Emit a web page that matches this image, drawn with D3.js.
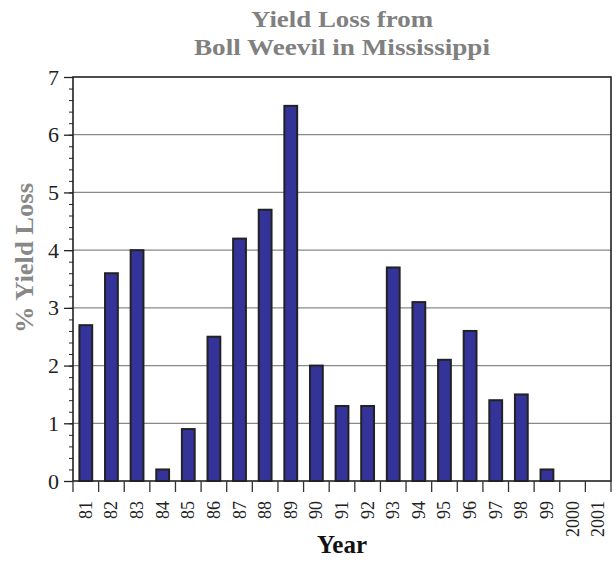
<!DOCTYPE html>
<html>
<head>
<meta charset="utf-8">
<script src="https://cdn.jsdelivr.net/npm/d3@7"></script>
<style>
  body { margin: 0; background: #fff; }
  svg text { font-family: "Liberation Serif", "Times New Roman", serif; }
</style>
</head>
<body>
<div id="chart"></div>
<script>
// data
const years = ["81", "82", "83", "84", "85", "86", "87", "88", "89", "90", "91",
  "92", "93", "94", "95", "96", "97", "98", "99", "2000", "2001"];
const yieldLoss = [2.7, 3.6, 4.0, 0.2, 0.9, 2.5, 4.2, 4.7, 6.5, 2.0, 1.3,
  1.3, 3.7, 3.1, 2.1, 2.6, 1.4, 1.5, 0.2, 0, 0];
const yTicks = [0, 1, 2, 3, 4, 5, 6, 7];

const width = 616, height = 565;
const margin = {top: 77, right: 5, bottom: 84, left: 73};
const w = width - margin.left - margin.right,
  h = height - margin.top - margin.bottom;

const svg = d3.select("#chart").append("svg")
  .attr("width", width)
  .attr("height", height);

const g = svg.append("g")
  .attr("transform", `translate(${margin.left},${margin.top})`);

const x = d3.scaleBand()
  .domain(years)
  .range([0, w])
  .paddingInner(0.5)
  .paddingOuter(0.25);

const y = d3.scaleLinear()
  .domain([0, 7])
  .range([h, 0]);

// gridlines
g.selectAll(".grid")
  .data(yTicks.filter(d => d > 0 && d < 7))
  .join("line")
  .attr("x1", 0).attr("x2", w)
  .attr("y1", d => y(d)).attr("y2", d => y(d))
  .attr("stroke", "#888")
  .attr("stroke-width", 1.3);

// minor ticks
const minor = d3.range(0, 7.001, 0.2).map(d => Math.round(d * 10) / 10);
g.append("g")
  .call(d3.axisLeft(y).tickValues(minor).tickSize(4).tickFormat(""))
  .call(a => a.select(".domain").remove())
  .selectAll("line").attr("stroke", "#222");

// y axis
g.append("g")
  .attr("font-family", "Liberation Serif, serif")
  .call(d3.axisLeft(y).tickValues(yTicks).tickSize(9).tickPadding(5).tickFormat(d3.format("d")))
  .call(a => a.select(".domain").remove())
  .call(a => a.selectAll("line").attr("stroke", "#222").attr("stroke-width", 1.3))
  .call(a => a.selectAll("text")
    .attr("font-size", 22)
    .attr("fill", "#222"));

// bars
g.selectAll(".bar")
  .data(years)
  .join("rect")
  .attr("x", d => x(d))
  .attr("width", x.bandwidth())
  .attr("y", (d, i) => y(yieldLoss[i]))
  .attr("height", (d, i) => h - y(yieldLoss[i]))
  .attr("fill", "#333399")
  .attr("stroke", "#222")
  .attr("stroke-width", 2);

// frame
g.append("rect")
  .attr("width", w)
  .attr("height", h)
  .attr("fill", "none")
  .attr("stroke", "#222")
  .attr("stroke-width", 1.6);

// x ticks at category boundaries
const half = x.step() * x.paddingInner() / 2;
const bounds = years.map(d => x(d) - half).concat([w]);
g.selectAll(".xtick")
  .data(bounds)
  .join("line")
  .attr("x1", d => d).attr("x2", d => d)
  .attr("y1", h).attr("y2", h + 11)
  .attr("stroke", "#333")
  .attr("stroke-width", 1.3);

// x labels
g.selectAll(".xlabel")
  .data(years)
  .join("text")
  .attr("transform", d => `translate(${x(d) + x.bandwidth() / 2 + 6},${h + 20}) rotate(-90)`)
  .attr("text-anchor", "end")
  .attr("font-size", 18)
  .attr("fill", "#222")
  .text(d => d);

// axis titles
svg.append("text")
  .attr("x", margin.left + w / 2)
  .attr("y", 553)
  .attr("text-anchor", "middle")
  .attr("font-size", 25)
  .attr("font-weight", "bold")
  .attr("fill", "#111")
  .text("Year");

svg.append("text")
  .attr("transform", "translate(33,258) rotate(-90)")
  .attr("text-anchor", "middle")
  .attr("font-size", 25)
  .attr("font-weight", "bold")
  .attr("fill", "#888")
  .attr("textLength", 150)
  .attr("lengthAdjust", "spacingAndGlyphs")
  .text("% Yield Loss");

// title
const title = ["Yield Loss from", "Boll Weevil in Mississippi"];
const titleWidths = [182, 296];
svg.selectAll(".title")
  .data(title)
  .join("text")
  .attr("x", margin.left + w / 2)
  .attr("y", (d, i) => 27 + i * 28)
  .attr("text-anchor", "middle")
  .attr("font-size", 24)
  .attr("font-weight", "bold")
  .attr("fill", "#808080")
  .attr("textLength", (d, i) => titleWidths[i])
  .attr("lengthAdjust", "spacingAndGlyphs")
  .text(d => d);
</script>
</body>
</html>
